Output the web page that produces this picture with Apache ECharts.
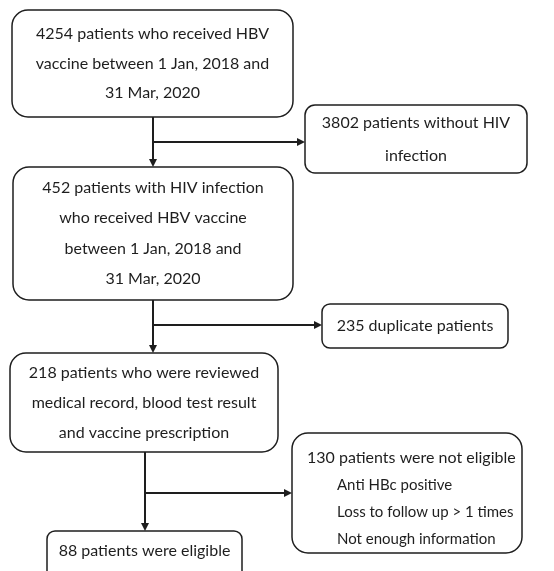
<!DOCTYPE html>
<html>
<head>
<meta charset="utf-8">
<script src="https://cdn.jsdelivr.net/npm/echarts@6/dist/echarts.min.js"></script>
<style>
  html, body { margin: 0; padding: 0; background: #fff; }
  #chart { width: 554px; height: 571px; }
</style>
</head>
<body>
<div id="chart"></div>
<script>
// Flow chart content
const boxLabels = [
  '4254 patients who received HBV\nvaccine between 1 Jan, 2018 and\n31 Mar, 2020',
  '3802 patients without HIV\ninfection',
  '452 patients with HIV infection\nwho received HBV vaccine\nbetween 1 Jan, 2018 and\n31 Mar, 2020',
  '235 duplicate patients',
  '218 patients who were reviewed\nmedical record, blood test result\nand vaccine prescription',
  '130 patients were not eligible',
  '88 patients were eligible'
]
const excludedReasons = ['Anti HBc positive', 'Loss to follow up > 1 times', 'Not enough information']

// layout in chart units: [x0, y0, x1, y1, radius, lineHeight]
const boxLayout = [
  [12, 10, 293, 117, 16, 29.5],
  [305, 105, 527, 173, 10, 33],
  [13, 167, 293, 300, 16, 30.5],
  [322, 304, 508, 348, 8, 30],
  [10, 353, 278, 452, 16, 30],
  [292, 433, 522, 553, 16, 27],
  [47, 531, 242, 585, 8, 30]
]
// connectors: [x0, y0, x1, y1]
const arrows = [
  [153, 117, 153, 167],
  [153, 142, 305, 142],
  [153, 300, 153, 353],
  [153, 325, 322, 325],
  [145, 452, 145, 531],
  [145, 493, 292, 493]
]

const FONT = '16px Lato, sans-serif'
const FONT_SMALL = '15px Lato, sans-serif'
const INK = '#1e1e1e'

const chart = echarts.init(document.getElementById('chart'))

const boxData = boxLayout.map((b, i) => b.concat([i]))

chart.setOption({
  animation: false,
  grid: { left: 0, right: 0, top: 0, bottom: 0 },
  xAxis: { type: 'value', min: 0, max: 554, show: false },
  yAxis: { type: 'value', min: 0, max: 571, inverse: true, show: false },
  series: [
    {
      type: 'custom',
      clip: false,
      data: boxData,
      renderItem: (params, api) => {
        const p0 = api.coord([api.value(0), api.value(1)])
        const p1 = api.coord([api.value(2), api.value(3)])
        const r = api.value(4)
        const lh = api.value(5)
        const idx = api.value(6)
        const children = [{
          type: 'rect',
          shape: { x: p0[0], y: p0[1], width: p1[0] - p0[0], height: p1[1] - p0[1], r: r },
          style: { fill: '#fff', stroke: INK, lineWidth: 1.5 }
        }]
        if (idx === 5) {
          // exclusion box: heading + indented reasons
          const lines = [boxLabels[idx]].concat(excludedReasons)
          const top = p0[1] + 25
          lines.forEach((t, k) => {
            children.push({
              type: 'text',
              style: {
                text: t, x: p0[0] + (k === 0 ? 15 : 45), y: top + k * lh,
                textAlign: 'left', textVerticalAlign: 'middle',
                font: k === 0 ? FONT : FONT_SMALL, fill: INK
              }
            })
          })
        } else {
          let cy = (p0[1] + p1[1]) / 2
          if (idx === 6) cy = p0[1] + 20
          children.push({
            type: 'text',
            style: {
              text: boxLabels[idx], x: (p0[0] + p1[0]) / 2, y: cy,
              textAlign: 'center', textVerticalAlign: 'middle',
              lineHeight: lh, font: FONT, fill: INK
            }
          })
        }
        return { type: 'group', children: children }
      }
    },
    {
      type: 'custom',
      clip: false,
      data: arrows,
      renderItem: (params, api) => {
        const a = api.coord([api.value(0), api.value(1)])
        const b = api.coord([api.value(2), api.value(3)])
        const dx = b[0] - a[0], dy = b[1] - a[1]
        const len = Math.sqrt(dx * dx + dy * dy)
        const ux = dx / len, uy = dy / len
        const hl = 8, hw = 4
        const base = [b[0] - ux * hl, b[1] - uy * hl]
        return {
          type: 'group',
          children: [
            {
              type: 'line',
              shape: { x1: a[0], y1: a[1], x2: base[0], y2: base[1] },
              style: { stroke: INK, lineWidth: 2 }
            },
            {
              type: 'polygon',
              shape: { points: [b, [base[0] - uy * hw, base[1] + ux * hw], [base[0] + uy * hw, base[1] - ux * hw]] },
              style: { fill: INK }
            }
          ]
        }
      }
    }
  ]
})
</script>
</body>
</html>
